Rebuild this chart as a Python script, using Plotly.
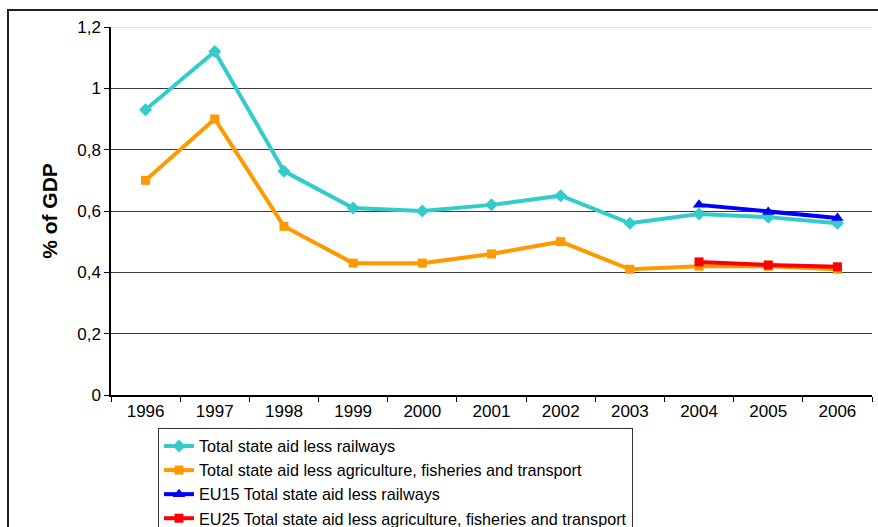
import plotly.graph_objects as go

years = ["1996", "1997", "1998", "1999", "2000", "2001", "2002", "2003", "2004", "2005", "2006"]
years_eu = ["2004", "2005", "2006"]

total_less_rail = [0.93, 1.12, 0.73, 0.61, 0.60, 0.62, 0.65, 0.56, 0.59, 0.58, 0.56]
total_less_agri = [0.70, 0.90, 0.55, 0.43, 0.43, 0.46, 0.50, 0.41, 0.42, 0.42, 0.41]
eu15_less_rail = [0.62, 0.597, 0.577]
eu25_less_agri = [0.434, 0.424, 0.418]

y_ticks = [0, 0.2, 0.4, 0.6, 0.8, 1.0, 1.2]
y_ticktext = ["0", "0,2", "0,4", "0,6", "0,8", "1", "1,2"]

series = [
    ("Total state aid less railways", years, total_less_rail, "#33CCCC", "diamond", 10),
    ("Total state aid less agriculture, fisheries and transport", years, total_less_agri, "#FF9900", "square", 9),
    ("EU15 Total state aid less railways", years_eu, eu15_less_rail, "#0000FF", "triangle-up", 11),
    ("EU25 Total state aid less agriculture, fisheries and transport", years_eu, eu25_less_agri, "#FF0000", "square", 9),
]

fig = go.Figure()
for name, xs, ys, color, sym, size in series:
    fig.add_trace(go.Scatter(
        x=xs, y=ys, name=name, mode="lines+markers",
        line=dict(color=color, width=4),
        marker=dict(symbol=sym, size=size, color=color),
    ))

fig.update_layout(
    width=878, height=527,
    margin=dict(l=111, r=6, t=27, b=132, autoexpand=False),
    plot_bgcolor="white", paper_bgcolor="white",
    font=dict(family="Liberation Sans, Arial, sans-serif", size=17, color="#000"),
    showlegend=True,
    legend=dict(
        x=(158 - 111) / 761, y=(395 - 428) / 368, xanchor="left", yanchor="top",
        bordercolor="#333", borderwidth=1, bgcolor="white",
        font=dict(family="Liberation Sans, Arial, sans-serif", size=16.2),
        itemwidth=30, tracegroupgap=0,
    ),
    xaxis=dict(
        type="category", categoryorder="array", categoryarray=years,
        range=[-0.5, len(years) - 0.5],
        showline=True, linecolor="black", linewidth=1.5,
        ticks="outside", ticklen=5, tickcolor="black", tickson="boundaries",
        showgrid=False, tickfont=dict(size=17), automargin=False,
    ),
    yaxis=dict(
        range=[0, 1.2], tickvals=y_ticks, ticktext=y_ticktext,
        showline=True, linecolor="black", linewidth=1.5,
        ticks="outside", ticklen=5, tickcolor="black",
        showgrid=True, gridcolor="#3a3a3a", gridwidth=1.2, zeroline=False,
        tickfont=dict(size=17), automargin=False,
        title=dict(text="<b>% of GDP</b>", font=dict(size=21), standoff=14),
    ),
    shapes=[
        dict(type="rect", xref="paper", yref="paper",
             x0=(8 - 111) / 761, x1=1.2, y0=-1.0, y1=(395 - 10) / 368,
             line=dict(color="#222", width=2), fillcolor="rgba(0,0,0,0)", layer="below"),
        dict(type="line", xref="paper", yref="y", x0=0, x1=1, y0=y_ticks[-1], y1=y_ticks[-1],
             line=dict(color="#d8d8d8", width=1.5), layer="below"),
    ],
)

fig.write_html("out.html")
